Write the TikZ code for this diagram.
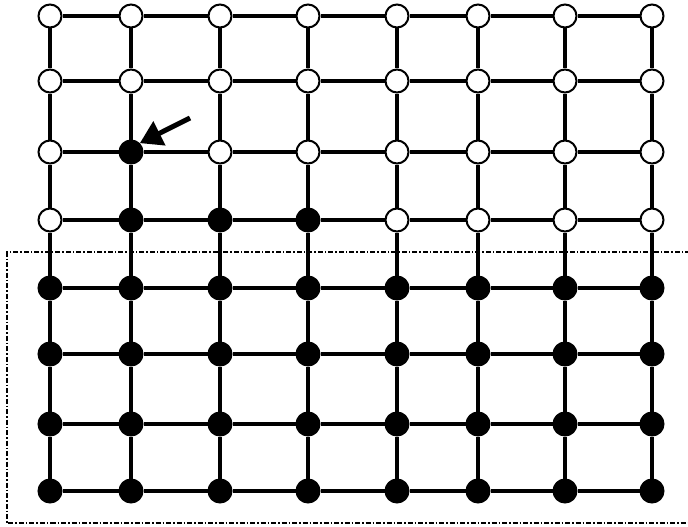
\documentclass[tikz,border=0pt]{standalone}
\usetikzlibrary{arrows.meta}
\begin{document}
\begin{tikzpicture}[x=1pt,y=-1pt,
  opennode/.style={circle,draw=black,fill=white,line width=2pt,minimum size=23pt,inner sep=0pt},
  fullnode/.style={circle,draw=black,fill=black,line width=2pt,minimum size=23pt,inner sep=0pt},
  gridline/.style={line width=3.4pt,black},
  regionbox/.style={line width=1.2pt,dash pattern=on 5pt off 2pt on 1.5pt off 2pt},
  pointer/.style={line width=5pt,-{Triangle[length=22pt,width=26pt]}}]
\useasboundingbox (0,0) rectangle (688,527);
\def\colx{{50,131,220,308,397,478,565,652}}
\def\rowy{{16,81,152,220,288,354,424,491}}
% dashed region
\draw[regionbox] (690,252) -- (7,252) -- (7,523) -- (690,523);
% nodes
\foreach \r in {1,...,8}{
  \foreach \c in {1,...,8}{
    \pgfmathsetmacro{\xx}{\colx[\c-1]}
    \pgfmathsetmacro{\yy}{\rowy[\r-1]}
    \pgfmathtruncatemacro{\isfull}{(\r>4) || (\r==3 && \c==2) || (\r==4 && \c>1 && \c<5) ? 1 : 0}
    \ifnum\isfull=1
      \node[fullnode] (n-\r-\c) at (\xx,\yy) {};
    \else
      \node[opennode] (n-\r-\c) at (\xx,\yy) {};
    \fi
  }
}
% grid connectors
\foreach \r in {1,...,8}{
  \foreach \c [evaluate=\c as \cn using int(\c+1)] in {1,...,7}{
    \draw[gridline] (n-\r-\c) -- (n-\r-\cn);
  }
}
\foreach \c in {1,...,8}{
  \foreach \r [evaluate=\r as \rn using int(\r+1)] in {1,...,7}{
    \draw[gridline] (n-\r-\c) -- (n-\rn-\c);
  }
}
% arrow
\coordinate (tail) at (190,118);
\draw[pointer] (tail) -- (n-3-2.north east);
\end{tikzpicture}
\end{document}
